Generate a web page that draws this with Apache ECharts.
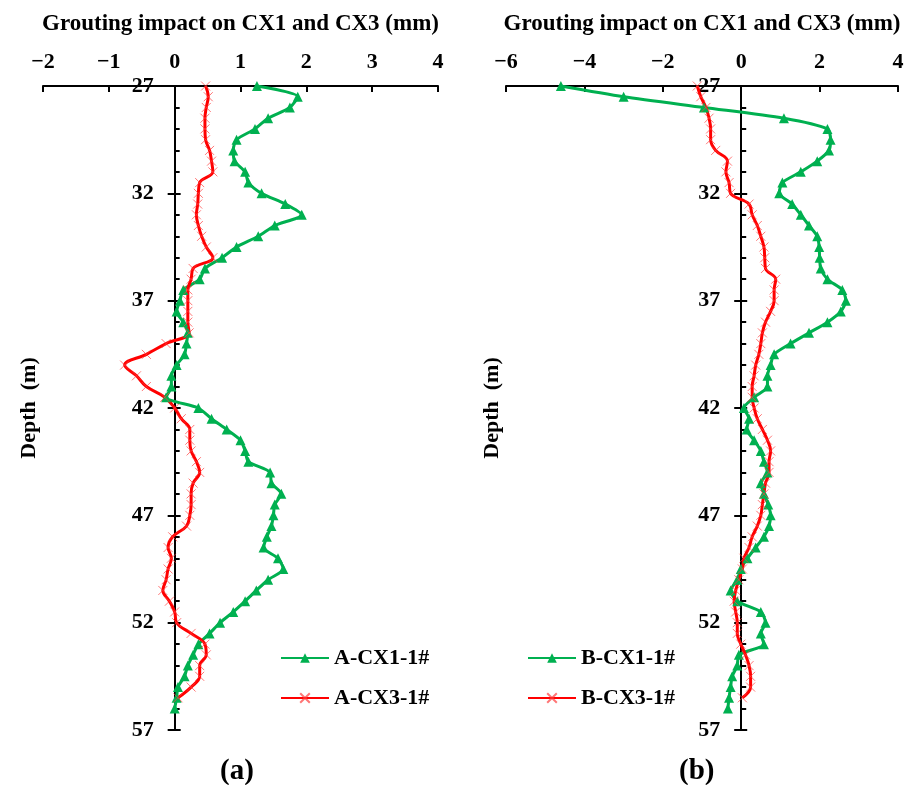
<!DOCTYPE html>
<html>
<head>
<meta charset="utf-8">
<script src="https://cdn.jsdelivr.net/npm/echarts@6/dist/echarts.min.js"></script>
<style>
  html, body { margin: 0; padding: 0; background: #fff; }
  #main { width: 907px; height: 785px; }
</style>
</head>
<body>
<div id="main"></div>
<script>
// depth of each reading (m)
const depths = [27, 27.5, 28, 28.5, 29, 29.5, 30, 30.5, 31, 31.5, 32, 32.5, 33, 33.5, 34, 34.5,
  35, 35.5, 36, 36.5, 37, 37.5, 38, 38.5, 39, 39.5, 40, 40.5, 41, 41.5, 42, 42.5, 43, 43.5,
  44, 44.5, 45, 45.5, 46, 46.5, 47, 47.5, 48, 48.5, 49, 49.5, 50, 50.5, 51, 51.5, 52, 52.5,
  53, 53.5, 54, 54.5, 55, 55.5, 56];

// panel (a)
const aCX1 = [1.25, 1.87, 1.75, 1.42, 1.22, 0.94, 0.89, 0.91, 1.07, 1.12, 1.32, 1.68, 1.93, 1.52,
  1.27, 0.94, 0.72, 0.46, 0.38, 0.13, 0.08, 0.03, 0.13, 0.20, 0.18, 0.15, 0.03, -0.05, -0.05,
  -0.13, 0.36, 0.56, 0.79, 1.0, 1.07, 1.12, 1.45, 1.47, 1.62, 1.52, 1.50, 1.47, 1.40, 1.35,
  1.57, 1.65, 1.42, 1.24, 1.07, 0.89, 0.69, 0.53, 0.36, 0.28, 0.20, 0.15, 0.05, 0.03, 0.0];
const aCX3 = [0.47, 0.51, 0.48, 0.46, 0.46, 0.47, 0.53, 0.56, 0.58, 0.38, 0.36, 0.35, 0.33, 0.36,
  0.41, 0.48, 0.58, 0.28, 0.25, 0.20, 0.20, 0.20, 0.20, 0.22, -0.13, -0.43, -0.76, -0.58, -0.43,
  -0.15, 0.0, 0.10, 0.23, 0.23, 0.25, 0.33, 0.38, 0.28, 0.25, 0.25, 0.23, 0.18, -0.03, -0.10,
  -0.05, -0.10, -0.13, -0.18, -0.08, 0.0, 0.03, 0.25, 0.46, 0.48, 0.38, 0.38, 0.25, 0.05];

// panel (b)
const bCX1 = [-4.6, -3.0, -0.95, 1.09, 2.2, 2.28, 2.24, 1.94, 1.52, 1.05, 0.97, 1.3, 1.52, 1.73,
  1.94, 1.99, 2.0, 2.03, 2.2, 2.58, 2.67, 2.54, 2.2, 1.73, 1.26, 0.84, 0.75, 0.67, 0.67, 0.33,
  0.07, 0.2, 0.14, 0.33, 0.5, 0.58, 0.67, 0.5, 0.58, 0.69, 0.75, 0.71, 0.58, 0.37, 0.16, -0.01,
  -0.1, -0.27, -0.1, 0.5, 0.62, 0.5, 0.58, -0.06, -0.1, -0.23, -0.27, -0.31, -0.34];
const bCX3 = [-1.12, -1.03, -0.9, -0.82, -0.78, -0.78, -0.65, -0.35, -0.39, -0.31, -0.27, 0.2,
  0.28, 0.41, 0.5, 0.58, 0.6, 0.62, 0.88, 0.84, 0.84, 0.75, 0.62, 0.54, 0.5, 0.45, 0.37, 0.33,
  0.28, 0.28, 0.33, 0.41, 0.54, 0.67, 0.75, 0.71, 0.71, 0.62, 0.58, 0.54, 0.5, 0.41, 0.28, 0.2,
  0.07, 0.03, -0.06, -0.14, -0.18, -0.14, -0.1, -0.1, -0.01, 0.11, 0.2, 0.24, 0.24, 0.03];

const xTitle = 'Grouting impact on CX1 and CX3 (mm)';
const yTitle = 'Depth  (m)';

const FONT = '"Liberation Serif", "Times New Roman", serif';
const GREEN = '#00b050';
const RED = '#ff0000';
const CROSS = 'path://M0,0 L10,10 M10,0 L0,10';

// grid boxes (px) and x ranges of the two panels
const W = 907, H = 785;
const gridA = { left: 43, right: 438, top: 86, bottom: 730, xmin: -2, xmax: 4, step: 1 };
const gridB = { left: 506, right: 898, top: 86, bottom: 730, xmin: -6, xmax: 4, step: 2 };

const pairs = (vals) => vals.map((v, i) => [v, depths[i]]);
const minus = (v) => (v < 0 ? '\u2212' + Math.abs(v) : String(v));
// distance from grid left edge to x = 0
const zeroOffset = (g) => (g.right - g.left) * (0 - g.xmin) / (g.xmax - g.xmin);

function xAxisOf(idx, g) {
  return {
    type: 'value', gridIndex: idx, position: 'top',
    min: g.xmin, max: g.xmax, interval: g.step,
    name: xTitle, nameLocation: 'middle', nameGap: 50,
    nameTextStyle: { fontFamily: FONT, fontWeight: 'bold', fontSize: 23, color: '#000' },
    axisLine: { onZero: false, lineStyle: { color: '#000', width: 2 } },
    axisTick: { inside: true, length: 6, lineStyle: { color: '#000', width: 2 } },
    axisLabel: { formatter: minus, fontFamily: FONT, fontWeight: 'bold', fontSize: 22, color: '#000', margin: 13 },
    splitLine: { show: false }
  };
}

// main depth axis: line, labels, major ticks to the left
function yAxisOf(idx, g, nameGap) {
  return {
    type: 'value', gridIndex: idx, inverse: true, position: 'left',
    offset: -zeroOffset(g),
    min: 27, max: 57, interval: 5,
    name: yTitle, nameLocation: 'middle', nameGap: nameGap,
    nameTextStyle: { fontFamily: FONT, fontWeight: 'bold', fontSize: 22, color: '#000' },
    axisLine: { onZero: false, lineStyle: { color: '#000', width: 2 } },
    axisTick: { length: 7, lineStyle: { color: '#000', width: 2 } },
    axisLabel: { fontFamily: FONT, fontWeight: 'bold', fontSize: 22, color: '#000', margin: 21 },
    splitLine: { show: false }
  };
}

// twin depth axis: only the ticks on the right side of the line
function yTicksOf(idx, g) {
  return {
    type: 'value', gridIndex: idx, inverse: true, position: 'right',
    offset: -((g.right - g.left) - zeroOffset(g)),
    min: 27, max: 57, interval: 5,
    axisLine: { show: false, onZero: false },
    axisTick: { length: 6, lineStyle: { color: '#000', width: 2 } },
    minorTick: { show: true, splitNumber: 5, length: 5, lineStyle: { color: '#000', width: 2 } },
    axisLabel: { show: false },
    splitLine: { show: false },
    minorSplitLine: { show: false }
  };
}

function greenSeries(name, idx, vals) {
  return {
    name: name, type: 'line', xAxisIndex: idx, yAxisIndex: idx,
    data: pairs(vals), smooth: 0.25,
    symbol: 'triangle', symbolSize: 10,
    lineStyle: { color: GREEN, width: 3 },
    itemStyle: { color: GREEN }
  };
}

function redSeries(name, idx, vals) {
  return {
    name: name, type: 'line', xAxisIndex: idx, yAxisIndex: idx,
    data: pairs(vals), smooth: 0.4,
    symbol: CROSS, symbolSize: 9,
    lineStyle: { color: RED, width: 3 },
    itemStyle: { color: 'rgba(0,0,0,0)', borderColor: 'rgba(255,60,60,0.7)', borderWidth: 1 }
  };
}

function legendOf(left, names) {
  return {
    left: left, top: 642, orient: 'vertical',
    itemWidth: 48, itemHeight: 12, itemGap: 18,
    data: names,
    textStyle: { fontFamily: FONT, fontWeight: 'bold', fontSize: 22, color: '#000' }
  };
}

function captionOf(letter, left) {
  return {
    text: '{p|(}{b|' + letter + '}{p|)}', left: left, top: 752,
    textStyle: { rich: {
      p: { fontFamily: FONT, fontSize: 29, color: '#000' },
      b: { fontFamily: FONT, fontSize: 29, fontWeight: 'bold', color: '#000' }
    } }
  };
}

function gridOf(g) {
  return { left: g.left, right: W - g.right, top: g.top, bottom: H - g.bottom, outerBoundsMode: 'none' };
}

const chart = echarts.init(document.getElementById('main'));
chart.setOption({
  animation: false,
  backgroundColor: '#fff',
  title: [captionOf('a', 215), captionOf('b', 674)],
  grid: [gridOf(gridA), gridOf(gridB)],
  xAxis: [xAxisOf(0, gridA), xAxisOf(1, gridB)],
  yAxis: [yAxisOf(0, gridA, 134), yAxisOf(1, gridB, 238), yTicksOf(0, gridA), yTicksOf(1, gridB)],
  legend: [
    legendOf(275, ['A-CX1-1#', 'A-CX3-1#']),
    legendOf(522, ['B-CX1-1#', 'B-CX3-1#'])
  ],
  series: [
    greenSeries('A-CX1-1#', 0, aCX1),
    redSeries('A-CX3-1#', 0, aCX3),
    greenSeries('B-CX1-1#', 1, bCX1),
    redSeries('B-CX3-1#', 1, bCX3)
  ]
});
</script>
</body>
</html>
